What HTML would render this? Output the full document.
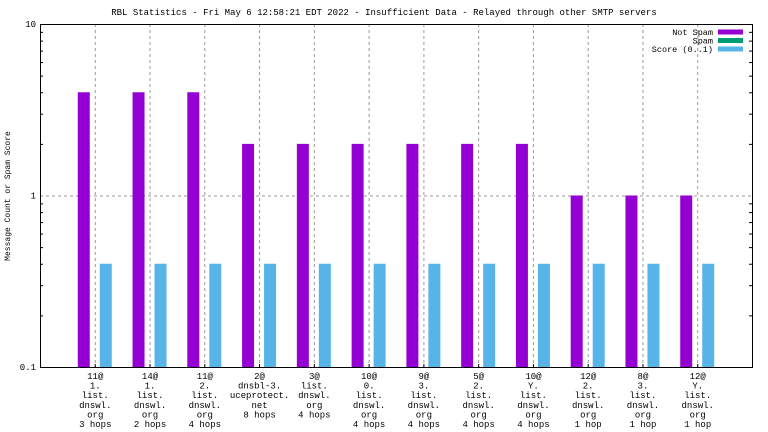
<!DOCTYPE html>
<html><head><meta charset="utf-8"><style>
body{margin:0;background:#fff}
svg{display:block;font-family:"Liberation Mono",monospace;font-size:9px}
</style></head><body>
<svg id="c" width="768" height="432">
<text x="384" y="15" text-anchor="middle">RBL Statistics - Fri May  6 12:58:21 EDT 2022 - Insufficient Data - Relayed through other SMTP servers</text>
<text transform="translate(10,196) rotate(-90)" text-anchor="middle" font-size="8">Message Count or Spam Score</text>
<g id="g"></g>
</svg>
<script>
const categories=[["11@","1.","list.","dnswl.","org","3 hops"],["14@","1.","list.","dnswl.","org","2 hops"],["11@","2.","list.","dnswl.","org","4 hops"],["2@","dnsbl-3.","uceprotect.","net","8 hops"],["3@","list.","dnswl.","org","4 hops"],["10@","0.","list.","dnswl.","org","4 hops"],["9@","3.","list.","dnswl.","org","4 hops"],["5@","2.","list.","dnswl.","org","4 hops"],["10@","Y.","list.","dnswl.","org","4 hops"],["12@","2.","list.","dnswl.","org","1 hop"],["8@","3.","list.","dnswl.","org","1 hop"],["12@","Y.","list.","dnswl.","org","1 hop"]];
const notSpam=[4,4,4,2,2,2,2,2,2,1,1,1];
const score=[0.4,0.4,0.4,0.4,0.4,0.4,0.4,0.4,0.4,0.4,0.4,0.4];
const yTicks=[0.1,1,10];
const yTickLabels=["0.1","1","10"];
const L=40,R=752,T=24,B=367;
const NS="http://www.w3.org/2000/svg";
const g=document.getElementById('g');
function y(v){return B-(Math.log10(v)+1)/2*(B-T);}
function x(i){return L+(i+1)*(R-L)/(categories.length+1);}
function el(t,a,p){const e=document.createElementNS(NS,t);for(const k in a)e.setAttribute(k,a[k]);(p||g).appendChild(e);return e;}
// grid
for(let i=0;i<categories.length;i++){const l=el('line',{x1:x(i)+.5,x2:x(i)+.5,y1:T,y2:B,stroke:'#999','stroke-dasharray':'3,3'});

}
yTicks.forEach((v,k)=>{if(k>0&&k<yTicks.length-1){const l=el('line',{x1:L,x2:R,y1:y(v)+.5,y2:y(v)+.5,stroke:'#999','stroke-dasharray':'3,3'});

}
const t=el('text',{x:L-4,y:y(v)+3,'text-anchor':'end'});t.textContent=yTickLabels[k];


for(let m=2;m<10&&v<10;m++){const yy=y(v*m)+.5;el('line',{x1:L,x2:L+3,y1:yy,y2:yy,stroke:'#000'});el('line',{x1:R-3,x2:R,y1:yy,y2:yy,stroke:'#000'});}});
// bars
categories.forEach((c,i)=>{const cx=x(i);
const b=el('rect',{x:cx-17,y:y(notSpam[i]),width:12,height:B-y(notSpam[i]),fill:'#9400d3'});


const s=el('rect',{x:cx+5,y:y(score[i]),width:12,height:B-y(score[i]),fill:'#56b4e9'});


el('line',{x1:cx+.5,x2:cx+.5,y1:B-3,y2:B,stroke:'#000'});
const t=el('text',{'text-anchor':'middle'});


c.forEach((ln,k)=>{const sp=el('tspan',{x:cx+.5,y:379+k*9.6},t);sp.textContent=ln;});});
const fr=el('rect',{x:L+.5,y:T+.5,width:R-L,height:B-T,fill:'none',stroke:'#000'});


// legend
[["Not Spam","#9400d3"],["Spam","#009e73"],["Score (0..1)","#56b4e9"]].forEach((d,k)=>{const yy=32+k*8.5;
const t=el('text',{x:713,y:yy+3,'text-anchor':'end','font-size':'8.5'});t.textContent=d[0];


el('rect',{x:718,y:yy-2.5,width:25,height:5,fill:d[1]});});
</script>
</body></html>
